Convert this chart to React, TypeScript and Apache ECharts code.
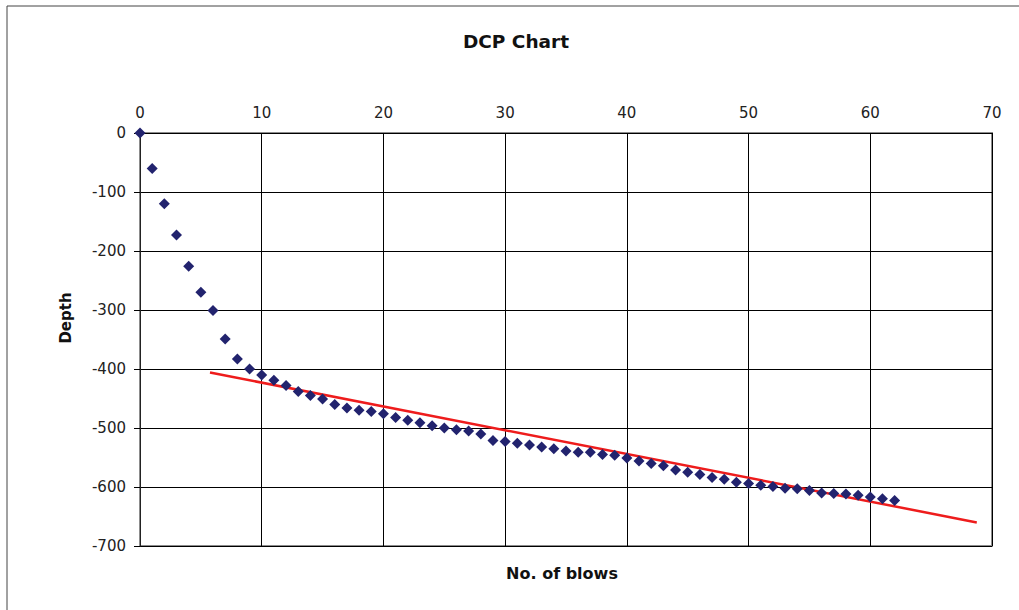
import React, { useEffect, useRef } from "react";
import * as echarts from "echarts";

const blows = [
  0, 1, 2, 3, 4, 5, 6, 7, 8, 9, 10, 11, 12, 13, 14, 15, 16, 17, 18, 19, 20,
  21, 22, 23, 24, 25, 26, 27, 28, 29, 30, 31, 32, 33, 34, 35, 36, 37, 38, 39, 40,
  41, 42, 43, 44, 45, 46, 47, 48, 49, 50, 51, 52, 53, 54, 55, 56, 57, 58, 59, 60,
  61, 62,
];
const depths = [
  0, -60, -120, -173, -226, -270, -301, -349, -383, -400, -410, -419, -428, -438,
  -445, -451, -460, -466, -470, -472, -476, -482, -487, -491, -496, -500, -503,
  -505, -510, -521, -523, -526, -529, -532, -535, -539, -541, -541, -545, -546,
  -551, -556, -560, -564, -571, -575, -579, -584, -587, -592, -594, -597, -599,
  -602, -603, -606, -610, -611, -612, -614, -617, -620, -623,
];
const trendX = [5.75, 68.75];
const trendY = [-406, -660];

const titleText = "DCP Chart";
const xName = "No. of blows";
const yName = "Depth";

const FONT = "'DejaVu Sans', Verdana, sans-serif";

export default function App() {
  const ref = useRef<HTMLDivElement>(null);
  useEffect(() => {
    if (!ref.current) return;
    const chart = echarts.init(ref.current, undefined, { renderer: "svg" });
    chart.setOption({
      animation: false,
      backgroundColor: "#ffffff",
      grid: {
        left: 140,
        right: 27,
        top: 133,
        bottom: 64,
        show: true,
        borderColor: "#8c8c8c",
        borderWidth: 2,
        backgroundColor: "transparent",
      },
      xAxis: {
        type: "value",
        position: "top",
        min: 0,
        max: 70,
        interval: 10,
        axisLine: { show: true, onZero: false, lineStyle: { color: "#000", width: 1 } },
        axisTick: { show: false },
        axisLabel: { color: "#222", fontSize: 15, fontFamily: FONT, margin: 13 },
        splitLine: { show: true, lineStyle: { color: "#000", width: 1 } },
      },
      yAxis: {
        type: "value",
        min: -700,
        max: 0,
        interval: 100,
        axisLine: { show: true, onZero: false, lineStyle: { color: "#222", width: 1 } },
        axisTick: { show: true, inside: false, length: 6, lineStyle: { color: "#000" } },
        axisLabel: { color: "#222", fontSize: 15, fontFamily: FONT, margin: 14 },
        splitLine: { show: true, lineStyle: { color: "#000", width: 1 } },
      },
      series: [
        {
          type: "line",
          data: trendX.map((x, i) => [x, trendY[i]]),
          symbol: "none",
          lineStyle: { color: "#ee1c1c", width: 2.5 },
          z: 3,
        },
        {
          type: "scatter",
          data: blows.map((b, i) => [b, depths[i]]),
          symbol: "diamond",
          symbolSize: 11,
          itemStyle: { color: "#22236e", opacity: 1 },
          z: 4,
        },
      ],
      graphic: [
        {
          type: "rect",
          shape: { x: 7, y: 6, width: 1100, height: 1000 },
          style: { fill: "none", stroke: "#444", lineWidth: 1 },
          silent: true,
        },
        {
          type: "text",
          x: 516,
          y: 41,
          style: {
            text: titleText,
            font: `bold 18.5px ${FONT}`,
            fill: "#111",
            align: "center",
            verticalAlign: "middle",
          },
        },
        {
          type: "text",
          x: 562,
          y: 573,
          style: {
            text: xName,
            font: `bold 16px ${FONT}`,
            fill: "#111",
            align: "center",
            verticalAlign: "middle",
          },
        },
        {
          type: "text",
          x: 66,
          y: 318,
          rotation: Math.PI / 2,
          style: {
            text: yName,
            font: `bold 15px ${FONT}`,
            fill: "#111",
            align: "center",
            verticalAlign: "middle",
          },
        },
      ],
    });
    return () => chart.dispose();
  }, []);
  return (
    <div
      ref={ref}
      style={{ position: "absolute", left: 0, top: 0, width: 1019, height: 610, background: "#fff" }}
    />
  );
}
